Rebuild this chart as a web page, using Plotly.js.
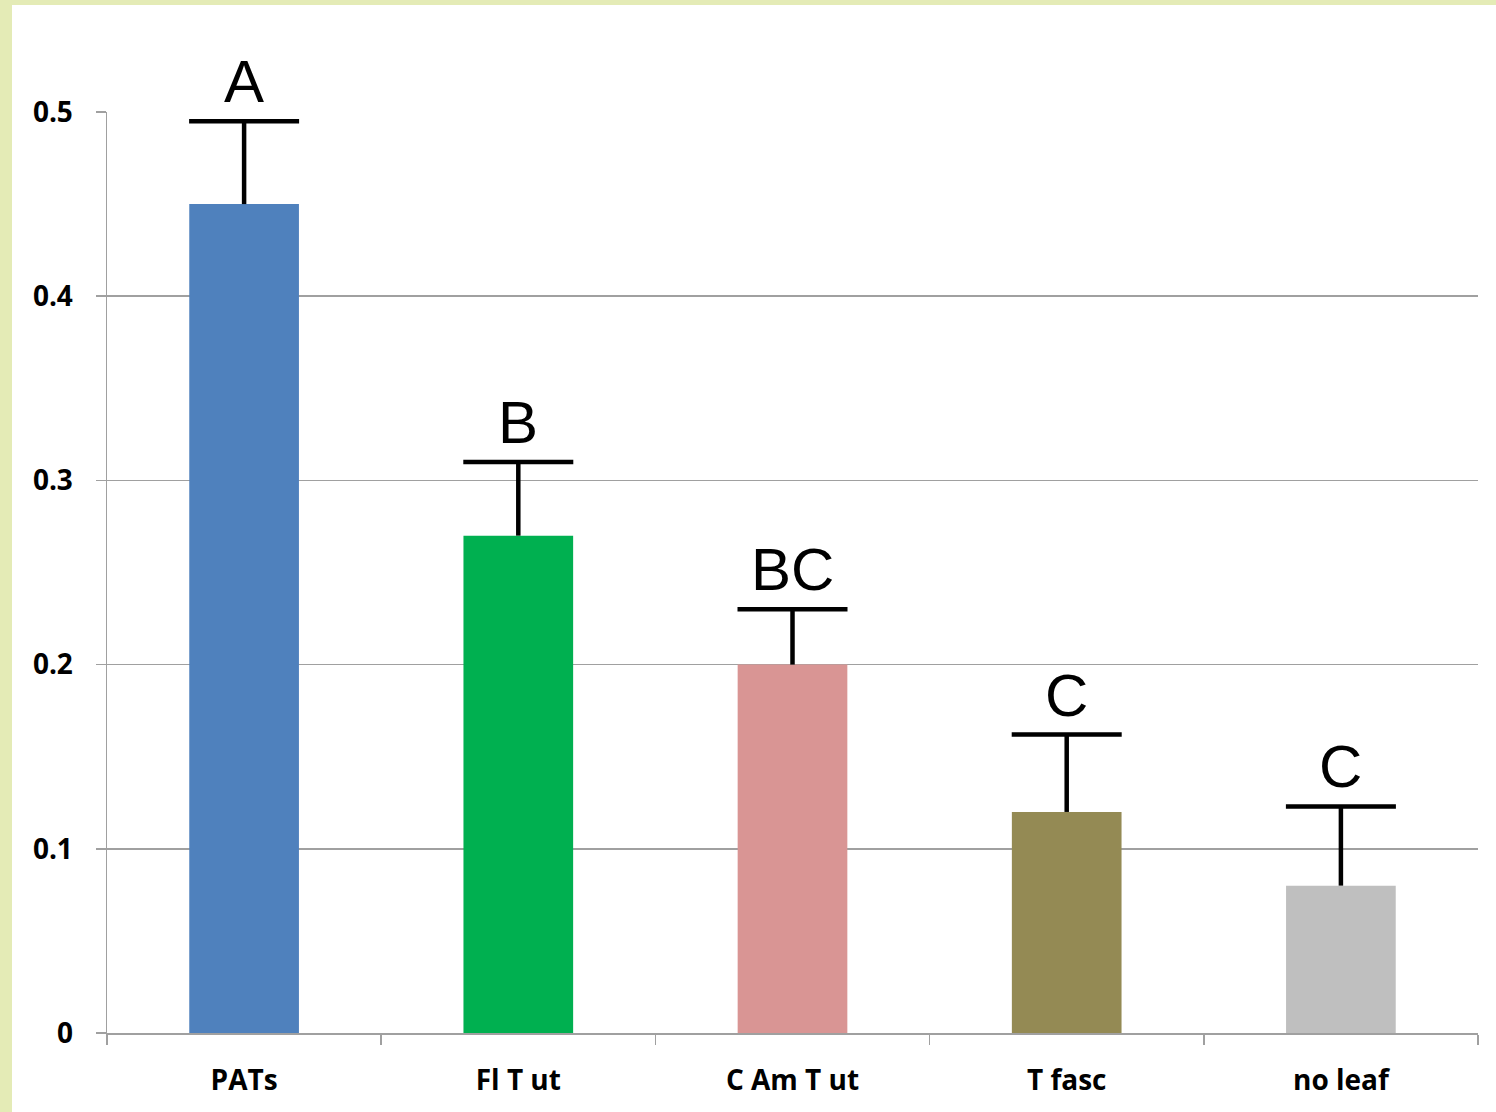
<!DOCTYPE html>
<html><head><meta charset="utf-8">
<script src="https://cdn.plot.ly/plotly-3.0.1.min.js"></script>
<style>
html,body{margin:0;padding:0;background:#e4ebb6;width:1496px;height:1112px;overflow:hidden}
#chart{position:absolute;left:12px;top:5px;width:1484px;height:1107px;background:#fff}
</style></head>
<body><div id="chart"></div>
<script>
const categories = ["PATs", "Fl T ut", "C Am T ut", "T fasc", "no leaf"];
const means = [0.45, 0.27, 0.20, 0.12, 0.08];
const errPlus = [0.045, 0.04, 0.03, 0.042, 0.043];
const letters = ["A", "B", "BC", "C", "C"];
const colors = ["#4f81bd", "#00b050", "#d99594", "#948a54", "#bfbfbf"];
const yTicks = [0, 0.1, 0.2, 0.3, 0.4, 0.5];

const tops = means.map((m, i) => m + errPlus[i]);

const bars = {
  type: "bar", x: categories, y: means,
  marker: {color: colors},
  width: 0.4, hoverinfo: "skip"
};
// stems of the one-sided error bars (no caps)
const stems = {
  type: "scatter", mode: "markers", x: categories, y: means,
  marker: {size: 1, opacity: 0},
  error_y: {type: "data", symmetric: false, array: errPlus, arrayminus: errPlus.map(() => 0),
            color: "#000", thickness: 4.5, width: 0},
  hoverinfo: "skip"
};
// caps at the top of each error bar
const caps = {
  type: "scatter", mode: "markers", x: categories, y: tops,
  marker: {size: 1, opacity: 0},
  error_y: {type: "data", array: tops.map(() => 0), color: "#000", thickness: 4.5, width: 55},
  hoverinfo: "skip"
};

const annotations = categories.map((c, i) => ({
  x: c, y: tops[i], xref: "x", yref: "y",
  text: letters[i], showarrow: false, yanchor: "bottom", yshift: 4,
  font: {family: "Liberation Sans, Arial", size: 60, color: "#000"}
}));

const tickFont = {family: "Open Sans", size: 28, color: "#000", weight: "bold"};

const layout = {
  width: 1484, height: 1107,
  margin: {l: 95, r: 18, t: 107, b: 79},
  paper_bgcolor: "#fff", plot_bgcolor: "#fff",
  showlegend: false,
  xaxis: {
    type: "category", tickson: "boundaries", ticks: "outside", ticklen: 10, tickwidth: 1.5,
    tickcolor: "#a0a0a0", showline: true, linecolor: "#a0a0a0", linewidth: 1.5,
    showgrid: false, ticklabelstandoff: 22,
    tickfont: tickFont
  },
  yaxis: {
    range: [0, 0.5], tickvals: yTicks, ticktext: yTicks.map(v => String(v)),
    ticks: "outside", ticklen: 10, tickwidth: 1.5, tickcolor: "#a0a0a0",
    showline: true, linecolor: "#a0a0a0", linewidth: 1.5,
    showgrid: true, gridcolor: "#a0a0a0", gridwidth: 1.5, zeroline: false,
    ticklabelstandoff: 17,
    tickfont: tickFont
  },
  annotations: annotations
};

Plotly.newPlot("chart", [bars, stems, caps], layout, {displayModeBar: false, staticPlot: true});
</script></body></html>
